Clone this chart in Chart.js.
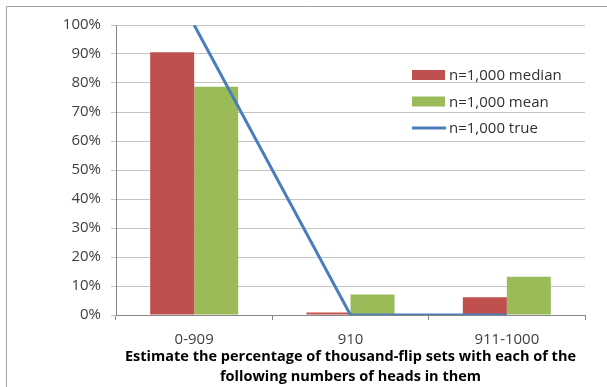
<!DOCTYPE html>
<html>
<head>
<meta charset="utf-8">
<script src="https://cdn.jsdelivr.net/npm/chart.js@4/dist/chart.umd.min.js"></script>
<style>
  html, body { margin: 0; padding: 0; background: #fff; }
  #wrap { width: 607px; height: 387px; }
</style>
</head>
<body>
<div id="wrap"><canvas id="flips" width="607" height="387"></canvas></div>
<script>
const categories = ["0-909", "910", "911-1000"];
const medianValues = [0.906, 0.009, 0.061];
const meanValues = [0.787, 0.071, 0.132];
const trueValues = [1.0, 0.0, 0.0];
const yTicks = [0, 0.1, 0.2, 0.3, 0.4, 0.5, 0.6, 0.7, 0.8, 0.9, 1.0];
const axisTitle = [
    "Estimate the percentage of thousand-flip sets with each of the",
    "following numbers of heads in them"
];

const FONT = "'Open Sans', Lato, sans-serif";

// outer frame of the chart object
const framePlugin = {
    id: 'frame',
    beforeDraw(chart) {
        const ctx = chart.ctx;
        ctx.save();
        ctx.fillStyle = '#fff';
        ctx.fillRect(0, 0, chart.width, chart.height);
        ctx.strokeStyle = '#a0a0a0';
        ctx.lineWidth = 1;
        ctx.beginPath();
        ctx.moveTo(6.5, chart.height + 2);
        ctx.lineTo(6.5, 6.5);
        ctx.lineTo(chart.width + 2, 6.5);
        ctx.stroke();
        ctx.restore();
    }
};

// legend drawn inside the plot, right side
const insideLegend = {
    id: 'insideLegend',
    afterDraw(chart) {
        const ctx = chart.ctx;
        const x = 412, y0 = 75, step = 26.5;
        ctx.save();
        ctx.font = "15px " + FONT;
        ctx.textBaseline = 'middle';
        ctx.textAlign = 'left';
        chart.data.datasets.forEach((ds, i) => {
            const y = y0 + i * step;
            if (ds.type === 'line') {
                ctx.strokeStyle = ds.borderColor;
                ctx.lineWidth = 3;
                ctx.beginPath();
                ctx.moveTo(x, y);
                ctx.lineTo(x + 34, y);
                ctx.stroke();
            } else {
                ctx.fillStyle = ds.backgroundColor;
                ctx.fillRect(x, y - 5, 33, 10);
            }
            ctx.fillStyle = '#303030';
            ctx.fillText(ds.label, x + 37, y + 1);
        });
        ctx.restore();
    }
};

new Chart(document.getElementById('flips'), {
    type: 'bar',
    data: {
        labels: categories,
        datasets: [
            {
                label: 'n=1,000 median',
                data: medianValues,
                backgroundColor: '#c0504d',
                order: 2
            },
            {
                label: 'n=1,000 mean',
                data: meanValues,
                backgroundColor: '#9bbb59',
                order: 2
            },
            {
                type: 'line',
                label: 'n=1,000 true',
                data: trueValues,
                borderColor: '#4a7ebb',
                borderWidth: 3,
                pointRadius: 0,
                tension: 0,
                order: 1
            }
        ]
    },
    options: {
        responsive: false,
        animation: false,
        layout: { padding: { left: 6, top: 25, right: 22, bottom: 0 } },
        datasets: {
            bar: { categoryPercentage: 0.563, barPercentage: 1.0 }
        },
        plugins: {
            legend: { display: false },
            tooltip: { enabled: false }
        },
        scales: {
            x: {
                offset: true,
                grid: {
                    offset: true,
                    drawOnChartArea: false,
                    tickLength: 5,
                    color: '#868686'
                },
                border: { color: '#868686' },
                ticks: {
                    padding: 12,
                    color: '#404040',
                    font: { family: FONT, size: 15, lineHeight: 1.0 }
                },
                title: {
                    display: true,
                    text: axisTitle,
                    color: '#000',
                    padding: { top: 0, bottom: 0 },
                    font: { family: FONT, size: 14.5, weight: 'bold', lineHeight: '20px' }
                },
                afterFit: (scale) => { scale.height = 72; }
            },
            y: {
                min: 0,
                max: 1,
                grid: {
                    color: '#c4c4c4',
                    tickLength: 5
                },
                border: { color: '#868686' },
                afterBuildTicks: (scale) => {
                    scale.ticks = yTicks.map(v => ({ value: v }));
                },
                ticks: {
                    padding: 10,
                    color: '#404040',
                    font: { family: FONT, size: 15 },
                    callback: (v) => Math.round(v * 100) + '%'
                },
                afterFit: (scale) => { scale.width = 110; }
            }
        }
    },
    plugins: [framePlugin, insideLegend]
});
</script>
</body>
</html>
